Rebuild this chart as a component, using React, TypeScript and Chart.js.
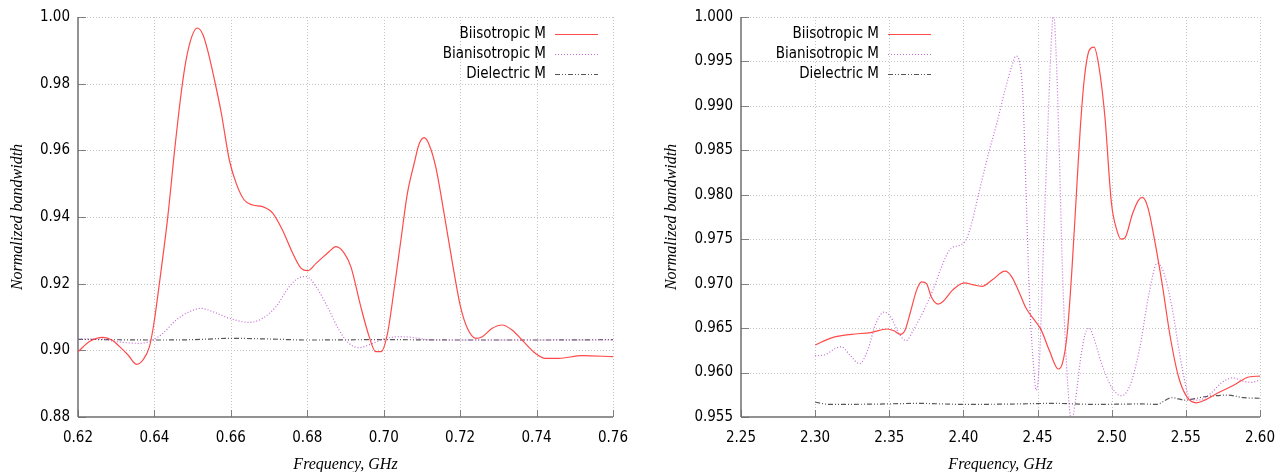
import React, { useEffect, useRef } from "react";
import { Chart, registerables } from "chart.js";

Chart.register(...registerables);

// ---------- Left panel data ----------
const leftXTicks = [0.62, 0.64, 0.66, 0.68, 0.7, 0.72, 0.74, 0.76];
const leftYTicks = [0.88, 0.9, 0.92, 0.94, 0.96, 0.98, 1.0];

const leftBiisoFreq = [
  0.62, 0.6231, 0.6265, 0.629, 0.6309, 0.6331, 0.6353, 0.637, 0.6387, 0.6398,
  0.6413, 0.6435, 0.6453, 0.647, 0.6483, 0.6498, 0.6512, 0.6527, 0.654, 0.6557,
  0.6575, 0.6596, 0.6614, 0.6635, 0.6657, 0.6683, 0.671, 0.6735, 0.6762, 0.6784,
  0.6801, 0.6823, 0.6857, 0.6875, 0.6897, 0.6914, 0.694, 0.6962, 0.6979, 0.6993,
  0.701, 0.7027, 0.7045, 0.7062, 0.708, 0.7092, 0.7106, 0.7119, 0.7136, 0.7158,
  0.718, 0.7201, 0.7219, 0.7241, 0.7258, 0.7284, 0.731, 0.7336, 0.7362, 0.7397,
  0.7423, 0.7458, 0.7519, 0.76,
];
const leftBiisoVal = [
  0.8996, 0.9027, 0.9039, 0.903, 0.9011, 0.8986, 0.8958, 0.8971, 0.9011, 0.9076,
  0.9201, 0.9401, 0.9602, 0.9772, 0.9872, 0.9942, 0.9967, 0.9947, 0.9897, 0.9812,
  0.9712, 0.9571, 0.9501, 0.9451, 0.9436, 0.9431, 0.9411, 0.9361, 0.9291, 0.9246,
  0.9239, 0.9261, 0.9296, 0.9311, 0.9291, 0.9251, 0.9131, 0.9041, 0.8996, 0.8996,
  0.9051, 0.9181, 0.9331, 0.9471, 0.9562, 0.9617, 0.9638, 0.9617, 0.9551, 0.9411,
  0.9261, 0.9131, 0.9066, 0.9036, 0.9041, 0.9066, 0.9076, 0.9061, 0.9031, 0.8991,
  0.8976, 0.8976, 0.8984, 0.8981,
];

const leftBianisoFreq = [
  0.62, 0.6257, 0.63, 0.6361, 0.6396, 0.6422, 0.6457, 0.6492, 0.6522, 0.6553,
  0.6596, 0.6648, 0.6683, 0.6718, 0.6753, 0.6779, 0.6797, 0.6823, 0.6857, 0.6883,
  0.6909, 0.6935, 0.6971, 0.7006, 0.7045, 0.7092, 0.7119, 0.73, 0.76,
];
const leftBianisoVal = [
  0.9034, 0.9034, 0.9026, 0.9021, 0.9031, 0.9051, 0.9091, 0.9116, 0.9126, 0.9116,
  0.9096, 0.9084, 0.9096, 0.9131, 0.9191, 0.9218, 0.9221, 0.9191, 0.9121, 0.9061,
  0.9021, 0.9008, 0.9021, 0.9036, 0.9041, 0.9036, 0.9031, 0.9031, 0.9031,
];

const leftDielFreq = [0.62, 0.64, 0.65, 0.66, 0.67, 0.68, 0.7, 0.72, 0.74, 0.76];
const leftDielVal = [0.9033, 0.9031, 0.9032, 0.9036, 0.9034, 0.9031, 0.9032, 0.9031, 0.9031, 0.9032];

// ---------- Right panel data ----------
const rightXTicks = [2.25, 2.3, 2.35, 2.4, 2.45, 2.5, 2.55, 2.6];
const rightYTicks = [0.955, 0.96, 0.965, 0.97, 0.975, 0.98, 0.985, 0.99, 0.995, 1.0];

const rightBiisoFreq = [
  2.3, 2.3111, 2.3243, 2.3376, 2.3486, 2.3531, 2.3575, 2.3607, 2.3641, 2.3685,
  2.3718, 2.3751, 2.3784, 2.3829, 2.3862, 2.3928, 2.4005, 2.406, 2.4126, 2.4193,
  2.4281, 2.4325, 2.4369, 2.4424, 2.4479, 2.4524, 2.4579, 2.464, 2.4667, 2.47,
  2.4733, 2.4766, 2.4789, 2.4817, 2.485, 2.4881, 2.4914, 2.4954, 2.4998, 2.5035,
  2.5064, 2.5087, 2.5141, 2.5181, 2.5208, 2.5245, 2.5285, 2.534, 2.5395, 2.5451,
  2.5506, 2.5572, 2.5627, 2.5715, 2.5825, 2.5925, 2.6,
];
const rightBiisoVal = [
  0.9631, 0.9639, 0.9643, 0.9645, 0.9649, 0.9647, 0.9643, 0.9648, 0.9667, 0.9693,
  0.9702, 0.97, 0.9685, 0.9677, 0.968, 0.9693, 0.9701, 0.9699, 0.9697, 0.9704,
  0.9714, 0.9708, 0.9693, 0.9672, 0.9659, 0.9648, 0.9625, 0.9604, 0.961, 0.9644,
  0.9719, 0.9813, 0.9877, 0.9933, 0.9963, 0.9966, 0.9944, 0.9888, 0.9791, 0.976,
  0.975, 0.9751, 0.9779, 0.9794, 0.9797, 0.9785, 0.9753, 0.97, 0.964, 0.9595,
  0.9573, 0.9566, 0.9569, 0.9577, 0.9586, 0.9595, 0.9596,
];

const rightBianisoFreq = [
  2.3, 2.3067, 2.3134, 2.3177, 2.3233, 2.3299, 2.3354, 2.3409, 2.3465, 2.3508,
  2.3565, 2.3614, 2.3663, 2.373, 2.3795, 2.3862, 2.3917, 2.3972, 2.4016, 2.4049,
  2.4104, 2.417, 2.4226, 2.4281, 2.4325, 2.4354, 2.438, 2.4402, 2.4424, 2.4446,
  2.4473, 2.4491, 2.4513, 2.4535, 2.4564, 2.459, 2.4608, 2.4624, 2.4646, 2.4667,
  2.4696, 2.4729, 2.4756, 2.4789, 2.4822, 2.4849, 2.4877, 2.4932, 2.4998, 2.5064,
  2.512, 2.5186, 2.5252, 2.5307, 2.5352, 2.5406, 2.5473, 2.5528, 2.5583, 2.5671,
  2.5737, 2.5815, 2.5892, 2.5947, 2.6,
];
const rightBianisoVal = [
  0.9619, 0.962, 0.9627, 0.9629, 0.962, 0.961, 0.9625, 0.9655, 0.9668, 0.9663,
  0.9644, 0.9636, 0.9648, 0.9669, 0.9693, 0.9723, 0.974, 0.9743, 0.9749, 0.9764,
  0.9802, 0.9847, 0.9881, 0.9918, 0.9944, 0.9956, 0.9948, 0.9907, 0.9794, 0.9682,
  0.9607, 0.958, 0.9614, 0.9719, 0.9851, 0.9963, 1.0006, 0.9963, 0.9851, 0.9719,
  0.9607, 0.9546, 0.9569, 0.9614, 0.9644, 0.965, 0.964, 0.961, 0.9584, 0.9574,
  0.9584, 0.9625, 0.9689, 0.9723, 0.9712, 0.9674, 0.9607, 0.9571, 0.9569, 0.9577,
  0.9588, 0.9594, 0.959, 0.9589, 0.9592,
];

const rightDielFreq = [
  2.3, 2.31, 2.34, 2.37, 2.4, 2.43, 2.46, 2.49, 2.52, 2.53, 2.5406, 2.5495, 2.5627,
  2.578, 2.5892, 2.6,
];
const rightDielVal = [
  0.95666, 0.95642, 0.95645, 0.95653, 0.95642, 0.95645, 0.95653, 0.95642, 0.95647,
  0.95642, 0.95717, 0.9569, 0.95728, 0.95746, 0.95717, 0.95711,
];

const seriesLabels = ["Biisotropic M", "Bianisotropic M", "Dielectric M"];

const TICK_FONT = { family: "'DejaVu Sans Condensed', 'DejaVu Sans', sans-serif", size: 15 };
const TITLE_FONT = { family: "'Liberation Serif', serif", size: 16, style: "italic" as const };

const pts = (xs: number[], ys: number[]) => xs.map((x, i) => ({ x, y: ys[i] }));

const decorPlugin = {
  id: "decor",
  beforeDatasetsDraw(chart: any) {
    const { ctx, chartArea: a, scales } = chart;
    const x = scales.x;
    const y = scales.y;
    const line = (x1: number, y1: number, x2: number, y2: number) => {
      ctx.beginPath();
      ctx.moveTo(x1, y1);
      ctx.lineTo(x2, y2);
      ctx.stroke();
    };
    ctx.save();
    // dotted grid
    ctx.strokeStyle = "#c4c4c4";
    ctx.lineWidth = 1;
    ctx.setLineDash([1, 2]);
    x.ticks.forEach((t: any) => {
      const px = Math.round(x.getPixelForValue(t.value)) + 0.5;
      if (px - a.left < 2) return;
      line(px, a.top, px, a.bottom);
    });
    y.ticks.forEach((t: any) => {
      const py = Math.round(y.getPixelForValue(t.value)) + 0.5;
      if (a.bottom - py < 2) return;
      line(a.left, py, a.right, py);
    });
    // inward ticks
    ctx.setLineDash([]);
    ctx.strokeStyle = "#808080";
    ctx.lineWidth = 1;
    x.ticks.forEach((t: any) => {
      const px = Math.round(x.getPixelForValue(t.value)) + 0.5;
      line(px, a.bottom, px, a.bottom - 7);
    });
    y.ticks.forEach((t: any) => {
      const py = Math.round(y.getPixelForValue(t.value)) + 0.5;
      line(a.left, py, a.left + 8, py);
    });
    // axes
    ctx.strokeStyle = "#6e6e6e";
    ctx.lineWidth = 1.5;
    line(a.left, a.top, a.left, a.bottom);
    line(a.left, a.bottom, a.right, a.bottom);
    ctx.restore();
  },
  afterDatasetsDraw(chart: any, _args: any, opts: any) {
    const { ctx } = chart;
    ctx.save();
    chart.data.datasets.forEach((ds: any, i: number) => {
      const yy = opts.rows[i];
      ctx.font = `${TICK_FONT.size}px ${TICK_FONT.family}`;
      ctx.fillStyle = "#000";
      ctx.textAlign = "right";
      ctx.textBaseline = "middle";
      ctx.fillText(ds.label, opts.textRight, yy + 0.5);
      ctx.strokeStyle = ds.borderColor;
      ctx.lineWidth = ds.borderWidth;
      ctx.setLineDash(ds.borderDash || []);
      ctx.beginPath();
      ctx.moveTo(opts.lineX1, Math.round(yy) + 0.5);
      ctx.lineTo(opts.lineX2, Math.round(yy) + 0.5);
      ctx.stroke();
    });
    ctx.restore();
  },
};

type PanelProps = {
  width: number;
  series: { x: number[]; y: number[] }[];
  xMin: number;
  xMax: number;
  yMin: number;
  yMax: number;
  xTicks: number[];
  yTicks: number[];
  xDecimals: number;
  yDecimals: number;
  yAxisWidth: number;
  padRight: number;
  yTitlePad: number;
  legend: { textRight: number; lineX1: number; lineX2: number; rows: number[] };
};

const STYLES = [
  { borderColor: "#ff4a4a", borderWidth: 1.2, borderDash: [] as number[] },
  { borderColor: "#c46bd6", borderWidth: 1.2, borderDash: [1, 2] },
  { borderColor: "#555555", borderWidth: 1.2, borderDash: [5, 2, 1, 2, 1, 2] },
];

function Panel(p: PanelProps) {
  const ref = useRef<HTMLCanvasElement | null>(null);
  useEffect(() => {
    if (!ref.current) return;
    const chart = new Chart(ref.current, {
      type: "line",
      data: {
        datasets: p.series.map((s, i) => ({
          label: seriesLabels[i],
          data: pts(s.x, s.y),
          ...STYLES[i],
          fill: false,
          pointRadius: 0,
          cubicInterpolationMode: "monotone" as const,
        })),
      },
      options: {
        animation: false,
        responsive: false,
        maintainAspectRatio: false,
        events: [],
        layout: { padding: { top: 17, right: p.padRight, left: 0, bottom: 0 } },
        plugins: {
          legend: { display: false },
          tooltip: { enabled: false },
          decor: p.legend,
        } as any,
        scales: {
          x: {
            type: "linear",
            min: p.xMin,
            max: p.xMax,
            afterBuildTicks: (s: any) => {
              s.ticks = p.xTicks.map((v) => ({ value: v }));
            },
            afterFit: (s: any) => {
              s.height = 55;
            },
            grid: { display: false, drawTicks: false, tickLength: 0 },
            border: { display: false },
            ticks: {
              padding: 12,
              font: TICK_FONT,
              color: "#000",
              maxRotation: 0,
              autoSkip: false,
              callback: (v: any) => Number(v).toFixed(p.xDecimals),
            },
            title: {
              display: true,
              text: "Frequency, GHz",
              font: TITLE_FONT,
              color: "#000",
              padding: { top: 0, bottom: -2 },
            },
          },
          y: {
            type: "linear",
            min: p.yMin,
            max: p.yMax,
            afterBuildTicks: (s: any) => {
              s.ticks = p.yTicks.map((v) => ({ value: v }));
            },
            afterFit: (s: any) => {
              s.width = p.yAxisWidth;
            },
            grid: { display: false, drawTicks: false, tickLength: 0 },
            border: { display: false },
            ticks: {
              padding: 8,
              font: TICK_FONT,
              color: "#000",
              autoSkip: false,
              callback: (v: any) => Number(v).toFixed(p.yDecimals),
            },
            title: {
              display: true,
              text: "Normalized bandwidth",
              font: TITLE_FONT,
              color: "#000",
              padding: { top: p.yTitlePad, bottom: 0 },
            },
          },
        },
      },
      plugins: [decorPlugin],
    });
    return () => chart.destroy();
  }, []);
  return <canvas ref={ref} width={p.width} height={472} style={{ display: "block", width: p.width, height: 472 }} />;
}

export default function App() {
  return (
    <div
      style={{
        position: "absolute",
        left: 0,
        top: 0,
        width: 1287,
        height: 472,
        overflow: "hidden",
        background: "#fff",
        display: "flex",
      }}
    >
      <Panel
        width={640}
        series={[
          { x: leftBiisoFreq, y: leftBiisoVal },
          { x: leftBianisoFreq, y: leftBianisoVal },
          { x: leftDielFreq, y: leftDielVal },
        ]}
        xMin={0.62}
        xMax={0.76}
        yMin={0.88}
        yMax={1.0}
        xTicks={leftXTicks}
        yTicks={leftYTicks}
        xDecimals={2}
        yDecimals={2}
        yAxisWidth={78}
        padRight={26}
        yTitlePad={7.7}
        legend={{ textRight: 546, lineX1: 555, lineX2: 598, rows: [34, 53.5, 73.5] }}
      />
      <Panel
        width={647}
        series={[
          { x: rightBiisoFreq, y: rightBiisoVal },
          { x: rightBianisoFreq, y: rightBianisoVal },
          { x: rightDielFreq, y: rightDielVal },
        ]}
        xMin={2.25}
        xMax={2.6}
        yMin={0.955}
        yMax={1.0}
        xTicks={rightXTicks}
        yTicks={rightYTicks}
        xDecimals={2}
        yDecimals={3}
        yAxisWidth={101}
        padRight={17}
        yTitlePad={22.3}
        legend={{ textRight: 239, lineX1: 248, lineX2: 291, rows: [34, 53.5, 73.5] }}
      />
    </div>
  );
}
